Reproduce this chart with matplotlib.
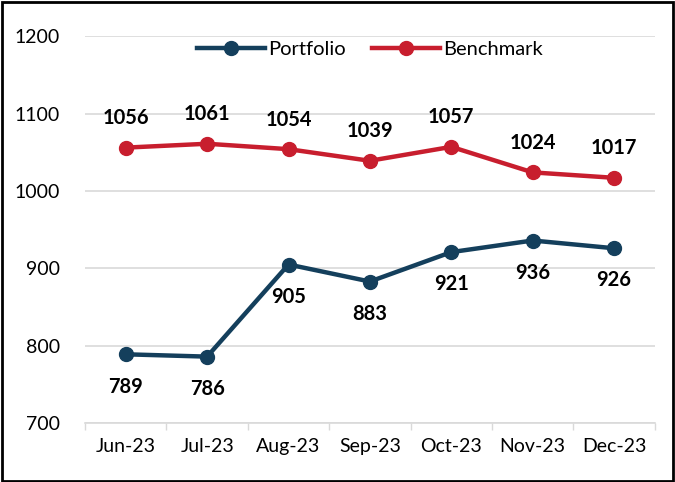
import matplotlib
matplotlib.use("Agg")
import matplotlib.pyplot as plt
from matplotlib.patches import Rectangle

months = ["Jun-23", "Jul-23", "Aug-23", "Sep-23", "Oct-23", "Nov-23", "Dec-23"]
portfolio = [789, 786, 905, 883, 921, 936, 926]
benchmark = [1056, 1061, 1054, 1039, 1057, 1024, 1017]
yticks = [700, 800, 900, 1000, 1100, 1200]

plt.rcParams['font.family'] = ['Lato', 'DejaVu Sans']

navy = "#143F5C"
red = "#C81E2E"

fig = plt.figure(figsize=(6.75, 4.82), dpi=100)
ax = fig.add_axes([0.126, 0.122, 0.844, 0.803])

x = list(range(len(months)))
ax.plot(x, portfolio, color=navy, lw=3.2, marker='o', ms=10, label="Portfolio", zorder=3)
ax.plot(x, benchmark, color=red, lw=3.2, marker='o', ms=10, label="Benchmark", zorder=3)

for xi, v in zip(x, benchmark):
    ax.annotate(str(v), (xi, v), xytext=(0, 14), textcoords='offset points',
                ha='center', va='bottom', fontsize=14.5, fontweight='bold', color='black')
for xi, v in zip(x, portfolio):
    ax.annotate(str(v), (xi, v), xytext=(0, -16), textcoords='offset points',
                ha='center', va='top', fontsize=14.5, fontweight='bold', color='black')

ax.set_xlim(-0.5, len(months) - 0.5)
ax.set_ylim(700, 1200)
ax.set_yticks(yticks)
ax.set_yticklabels([str(t) for t in yticks], fontsize=14)
ax.set_xticks(x)
ax.set_xticklabels(months, fontsize=14)
ax.set_xticks([i - 0.5 for i in range(len(months) + 1)], minor=True)
ax.tick_params(axis='x', which='major', length=0, pad=11)
ax.tick_params(axis='x', which='minor', length=5, color='#D9D9D9', width=1)
ax.tick_params(axis='y', length=0, pad=18)
ax.grid(axis='y', color='#D9D9D9', lw=1.2, zorder=0)
for s in ['left', 'right', 'top']:
    ax.spines[s].set_visible(False)
ax.spines['bottom'].set_color('#D9D9D9')
ax.spines['bottom'].set_linewidth(1.2)

leg = ax.legend(loc='upper center', bbox_to_anchor=(0.5, 1.035), ncol=2, frameon=False,
                fontsize=14.5, handlelength=3.4, columnspacing=1.3, handletextpad=0.15)

fig.patches.append(Rectangle((0.003, 0.003), 0.994, 0.992, transform=fig.transFigure,
                             fill=False, edgecolor='black', lw=2))

fig.savefig("out.png", dpi=100)
